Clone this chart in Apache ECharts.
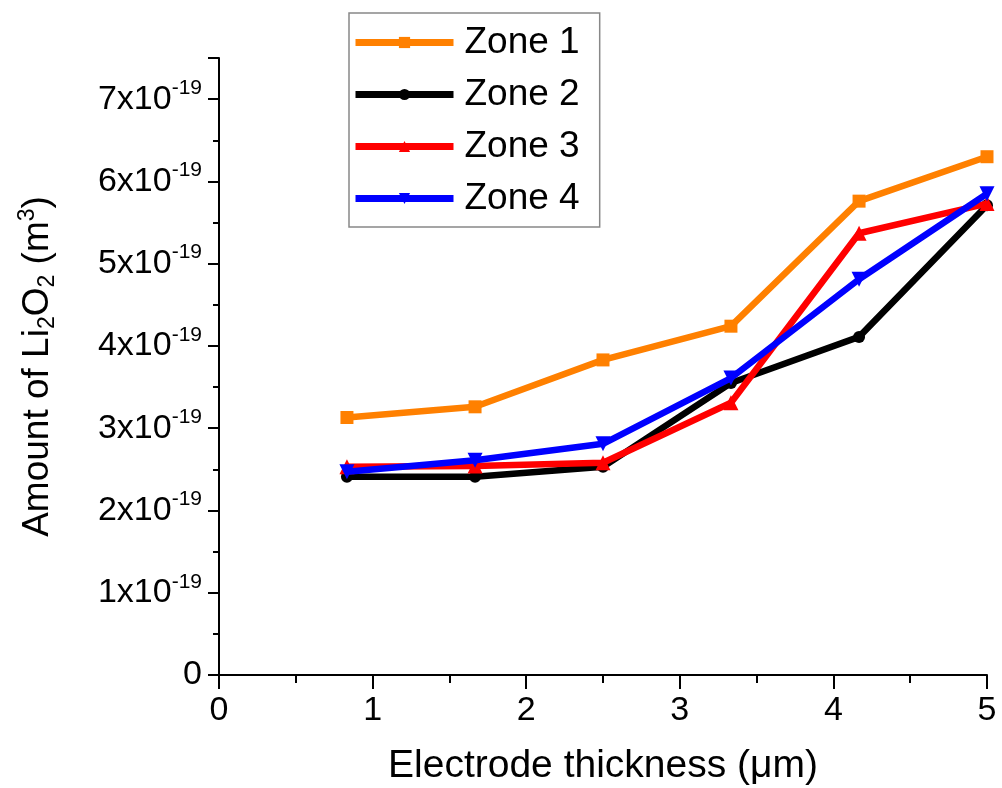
<!DOCTYPE html>
<html>
<head>
<meta charset="utf-8">
<script src="https://cdn.jsdelivr.net/npm/echarts@6/dist/echarts.min.js"></script>
<style>
html,body{margin:0;padding:0;background:#fff;}
#chart{width:1002px;height:788px;}
</style>
</head>
<body>
<div id="chart"></div>
<script>
// Electrode thickness (μm)
const thickness = [0.833, 1.667, 2.5, 3.333, 4.167, 5];
// Amount of Li2O2, in units of 1e-19 m^3
const zone1 = [3.13, 3.26, 3.83, 4.24, 5.76, 6.30];
const zone2 = [2.41, 2.41, 2.53, 3.55, 4.11, 5.71];
const zone3 = [2.53, 2.54, 2.58, 3.31, 5.37, 5.73];
const zone4 = [2.47, 2.61, 2.81, 3.61, 4.81, 5.85];
const seriesNames = ['Zone 1', 'Zone 2', 'Zone 3', 'Zone 4'];
const xTicks = [0, 1, 2, 3, 4, 5];
const yTicks = [0, 1, 2, 3, 4, 5, 6, 7];

const FONT = '"Liberation Sans", Arial, sans-serif';
const colors = ['#FF8000', '#000000', '#FF0000', '#0000FF'];
const symbols = ['rect', 'circle', 'triangle', 'triangle'];
const symbolSizes = [13, 12, 15, 15];
const rotates = [0, 0, 0, 180];
const allData = [zone1, zone2, zone3, zone4];

const chart = echarts.init(document.getElementById('chart'));
const series = allData.map((d, i) => ({
  name: seriesNames[i],
  type: 'line',
  data: d.map((v, j) => [thickness[j], v]),
  symbol: symbols[i],
  symbolSize: symbolSizes[i],
  symbolRotate: rotates[i],
  showAllSymbol: true,
  lineStyle: {color: colors[i], width: 6.5},
  itemStyle: {color: colors[i]},
  z: 2 + i
}));

chart.setOption({
  animation: false,
  backgroundColor: '#fff',
  grid: {left: 219, right: 15, top: 58, bottom: 113, containLabel: false, outerBoundsMode: 'none'},
  legend: {
    orient: 'vertical',
    left: 349, top: 13,
    padding: [11, 20, 10, 3],
    itemWidth: 98, itemHeight: 14, itemGap: 15,
    borderColor: '#888', borderWidth: 1.5,
    lineStyle: {width: 7},
    textStyle: {fontFamily: FONT, fontSize: 37, color: '#000', padding: [0, 0, 0, 6]},
    data: seriesNames
  },
  xAxis: {
    type: 'value', min: 0, max: 5, interval: 1,
    name: 'Electrode thickness (μm)', nameLocation: 'middle', nameGap: 72,
    nameTextStyle: {fontFamily: FONT, fontSize: 39, color: '#000'},
    axisLine: {show: true, onZero: false, lineStyle: {color: '#000', width: 2}},
    axisTick: {show: true, inside: false, length: 14, lineStyle: {color: '#000', width: 2}},
    minorTick: {show: true, splitNumber: 2, length: 8, lineStyle: {color: '#000', width: 2}},
    splitLine: {show: false},
    axisLabel: {fontFamily: FONT, fontSize: 34, color: '#000', margin: 19,
      formatter: v => xTicks.includes(v) ? String(v) : ''}
  },
  yAxis: {
    type: 'value', min: 0, max: 7.5, interval: 1,
    name: '{n|Amount of Li}{sub|2}{n|O}{sub|2}{n| (m}{sup|3}{n|)}',
    nameLocation: 'middle', nameGap: 160, nameRotate: 90,
    nameTextStyle: {fontFamily: FONT, fontSize: 37, color: '#000',
      rich: {
        n: {fontFamily: FONT, fontSize: 37, color: '#000'},
        sub: {fontFamily: FONT, fontSize: 23, color: '#000', padding: [20, 0, 0, 0]},
        sup: {fontFamily: FONT, fontSize: 23, color: '#000', padding: [0, 0, 20, 0]}
      }},
    axisLine: {show: true, lineStyle: {color: '#000', width: 2}},
    axisTick: {show: true, inside: false, length: 11, lineStyle: {color: '#000', width: 2}},
    minorTick: {show: true, splitNumber: 2, length: 6, lineStyle: {color: '#000', width: 2}},
    splitLine: {show: false},
    axisLabel: {fontFamily: FONT, fontSize: 34, color: '#000', margin: 17, showMaxLabel: false,
      formatter: v => !yTicks.includes(v) ? '' : (v === 0 ? '{b|0}' : '{b|' + v + 'x10}{s|-19}'),
      rich: {
        b: {fontFamily: FONT, fontSize: 34, color: '#000'},
        s: {fontFamily: FONT, fontSize: 21, color: '#000', padding: [0, 0, 22, 0]}
      }}
  },
  series: series
});
</script>
</body>
</html>
